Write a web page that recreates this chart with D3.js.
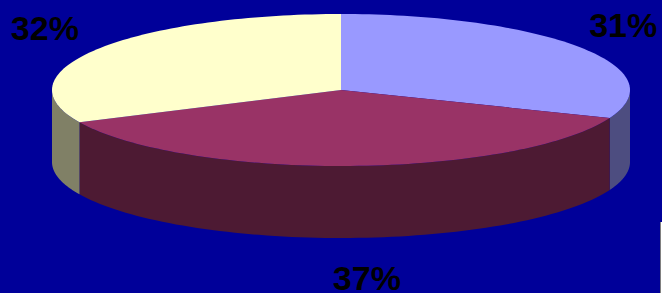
<!DOCTYPE html>
<html lang="en">
<head>
<meta charset="UTF-8">
<script src="https://d3js.org/d3.v7.min.js"></script>
<title>pie 3d</title>
<style>
  html, body { margin: 0; padding: 0; background: #000099; }
  svg { display: block; }
</style>
</head>
<body>
<script>
// data
var labels = ["31%", "37%", "32%"];
var values = [31, 37, 32];
var topColors = ["#9999FF", "#993366", "#FFFFCC"];
var sideColors = ["#4D4D80", "#4D1A33", "#808066"];

var width = 662, height = 293;
var svg = d3.select("body").append("svg").attr("width", width).attr("height", height);

svg.append("rect").attr("width", width).attr("height", height).attr("fill", "#000099");

// ellipse geometry of the tilted pie
var cx = 341, cy = 90, rx = 289, ry = 76, depth = 72;
var labCx = 337, labRx = 346, labRy = 116;

var pie = d3.pie().sort(null).value(function(d) { return d; });
var arcs = pie(values);

function pt(a, dy) {
  return [cx + rx * Math.sin(a), cy - ry * Math.cos(a) + (dy || 0)];
}

function topPath(d) {
  var p = d3.path();
  p.moveTo(cx, cy);
  var n = 80;
  for (var i = 0; i <= n; i++) {
    var a = d.startAngle + (d.endAngle - d.startAngle) * i / n;
    var q = pt(a);
    p.lineTo(q[0], q[1]);
  }
  p.closePath();
  return p.toString();
}

// outer wall only where it faces the viewer (front half)
function sidePath(d) {
  var s = Math.max(d.startAngle, Math.PI / 2);
  var e = Math.min(d.endAngle, Math.PI * 3 / 2);
  if (e <= s) return null;
  var n = 80, pts = [];
  for (var i = 0; i <= n; i++) pts.push(pt(s + (e - s) * i / n));
  for (var j = n; j >= 0; j--) pts.push(pt(s + (e - s) * j / n, depth));
  return "M" + pts.map(function(q) { return q.join(","); }).join("L") + "Z";
}

var g = svg.append("g");

g.selectAll(".side")
  .data(arcs.filter(function(d) { return sidePath(d); }))
  .enter()
  .append("path")
  .attr("class", "side")
  .attr("d", sidePath)
  .attr("fill", function(d) { return sideColors[d.index]; });

g.selectAll(".top")
  .data(arcs)
  .enter()
  .append("path")
  .attr("class", "top")
  .attr("d", topPath)
  .attr("fill", function(d) { return topColors[d.index]; });

// labels around the pie
svg.selectAll(".lab")
  .data(arcs)
  .enter()
  .append("text")
  .attr("class", "lab")
  .attr("x", function(d) {
    var a = (d.startAngle + d.endAngle) / 2;
    return labCx + labRx * Math.sin(a) + (Math.cos(a) < 0 ? 19 : 0);
  })
  .attr("y", function(d) {
    var a = (d.startAngle + d.endAngle) / 2;
    var y = cy - labRy * Math.cos(a);
    if (Math.cos(a) < 0) y += depth;
    return y + 12;
  })
  .attr("text-anchor", "middle")
  .style("font-family", "'Liberation Sans', Arial, sans-serif")
  .style("font-weight", "bold")
  .style("font-size", "34px")
  .attr("fill", "#000000")
  .text(function(d, i) { return labels[i]; });

// thin frame edge at the right
svg.append("line")
  .attr("x1", 660.5).attr("x2", 660.5).attr("y1", 222).attr("y2", height)
  .attr("stroke", "#808080");
svg.append("line")
  .attr("x1", 661.5).attr("x2", 661.5).attr("y1", 222).attr("y2", height)
  .attr("stroke", "#ffffff");
</script>
</body>
</html>
